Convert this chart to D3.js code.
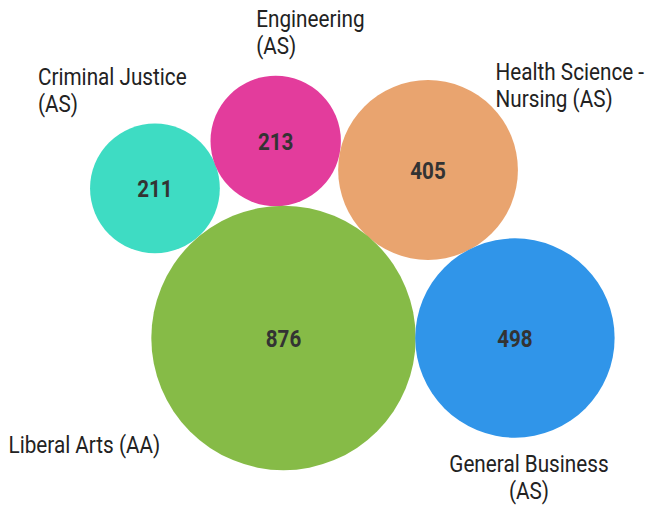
<!DOCTYPE html>
<html>
<head>
<meta charset="utf-8">
<script src="https://cdn.jsdelivr.net/npm/d3@7"></script>
<style>
  body { margin: 0; background: #fff; }
  svg text { font-family: Roboto, "Noto Sans", sans-serif; }
</style>
</head>
<body>
<div id="vis"></div>
<script>
// data
var programs = ["Criminal Justice (AS)", "Engineering (AS)", "Health Science - Nursing (AS)", "Liberal Arts (AA)", "General Business (AS)"];
var students = [211, 213, 405, 876, 498];
// bubble position on the chart's x / y value axes (0-100)
var xValues = [23.8, 42.35, 65.75, 43.55, 79.1];
var yValues = [63.0, 72.3, 66.6, 33.6, 33.6];
var colors = ["#3edcc3", "#e33c9c", "#e9a46f", "#86bb47", "#3095e9"];

var width = 651, height = 509;
// Roboto Condensed isn't installed, so squeeze Roboto a bit
var squeeze = 0.9;

var x = d3.scaleLinear().domain([0, 100]).range([0, width]);
var y = d3.scaleLinear().domain([0, 100]).range([height, 0]);
var r = d3.scaleSqrt().domain([0, d3.max(students)]).range([0, 132.2]);

var nodes = programs.map(function (p, i) {
  return { name: p, value: students[i], x: xValues[i], y: yValues[i], color: colors[i] };
});

// where each name label goes, relative to its bubble centre
var labelPlace = [
  { dx: -117, dy: -103.5, anchor: "start", lines: ["Criminal Justice", "(AS)"] },
  { dx: -19.5, dy: -114, anchor: "start", lines: ["Engineering", "(AS)"] },
  { dx: 67.5, dy: -90, anchor: "start", lines: ["Health Science -", "Nursing (AS)"] },
  { dx: -275, dy: 115, anchor: "start", lines: ["Liberal Arts (AA)"] },
  { dx: 14, dy: 134.5, anchor: "middle", lines: ["General Business", "(AS)"] }
];

var svg = d3.select("#vis")
  .append("svg")
  .attr("width", width)
  .attr("height", height);

var g = svg.selectAll("g.bubble")
  .data(nodes)
  .enter()
  .append("g")
  .attr("class", "bubble");

g.append("circle")
  .attr("cx", function (d) { return x(d.x); })
  .attr("cy", function (d) { return y(d.y); })
  .attr("r", function (d) { return r(d.value); })
  .attr("fill", function (d) { return d.color; });

g.append("text")
  .attr("transform", function (d) {
    return "translate(" + x(d.x) + "," + y(d.y) + ") scale(0.86,1)";
  })
  .attr("text-anchor", "middle")
  .attr("dominant-baseline", "central")
  .attr("font-size", "24px")
  .attr("font-weight", "bold")
  .attr("fill", "#333")
  .text(function (d) { return d.value; });

g.each(function (d, i) {
  var p = labelPlace[i];
  var t = d3.select(this)
    .append("text")
    .attr("transform", "translate(" + (x(d.x) + p.dx) + "," + (y(d.y) + p.dy) + ") scale(" + squeeze + ",1)")
    .attr("text-anchor", p.anchor)
    .attr("font-size", "23px")
    .attr("fill", "#222");
  p.lines.forEach(function (line, k) {
    t.append("tspan")
      .attr("x", 0)
      .attr("y", k * 27)
      .text(line);
  });
});
</script>
</body>
</html>
